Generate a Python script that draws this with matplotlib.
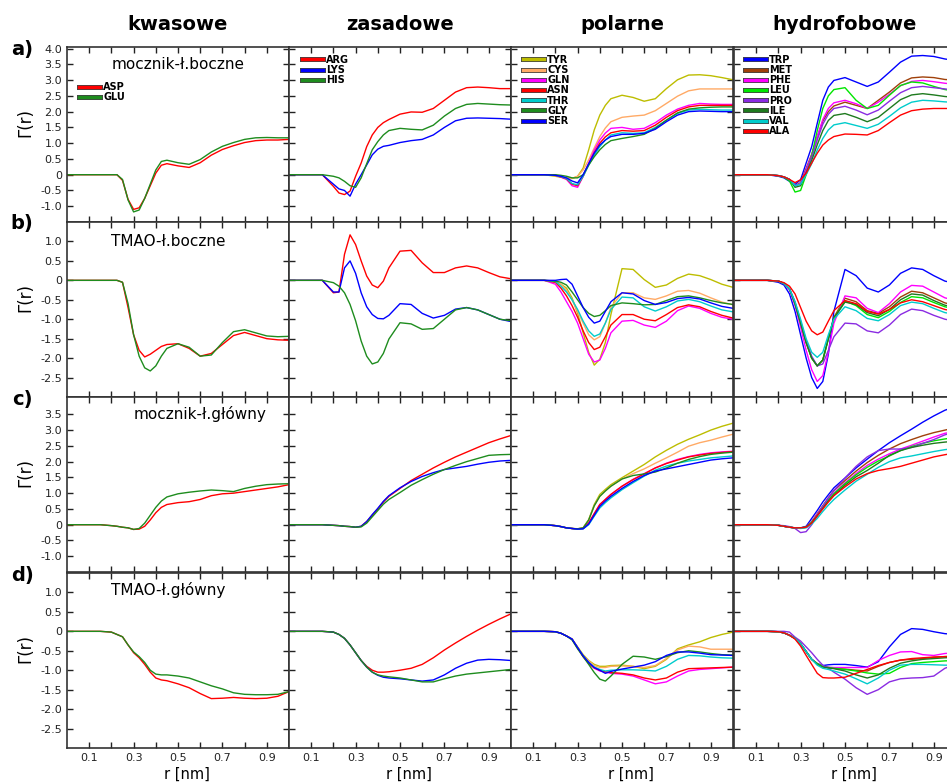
import matplotlib
matplotlib.use('Agg')
import matplotlib.pyplot as plt
from matplotlib import patheffects as pe

# shared r grid [nm]
r = [0.0, 0.15, 0.2, 0.225, 0.25, 0.275, 0.3, 0.325, 0.35, 0.375, 0.4, 0.425, 0.45,
     0.5, 0.55, 0.6, 0.65, 0.7, 0.75, 0.8, 0.85, 0.9, 0.95, 1.0]

columns = ['kwasowe', 'zasadowe', 'polarne', 'hydrofobowe']
row_labels = ['a)', 'b)', 'c)', 'd)']
row_notes = ['mocznik-ł.boczne', 'TMAO-ł.boczne', 'mocznik-ł.główny', 'TMAO-ł.główny']

# a) mocznik - side chains
kwasowe_a = {
    'ASP': [0, 0, 0, 0, -0.18, -0.78, -1.1, -1.05, -0.75, -0.35, 0.05, 0.3, 0.35, 0.28, 0.23, 0.38, 0.62, 0.8, 0.92, 1.02, 1.08, 1.1, 1.1, 1.12],
    'GLU': [0, 0, 0, 0, -0.15, -0.8, -1.18, -1.12, -0.75, -0.3, 0.15, 0.42, 0.46, 0.38, 0.33, 0.48, 0.72, 0.9, 1.02, 1.12, 1.17, 1.18, 1.17, 1.17],
}
zasadowe_a = {
    'ARG': [0, 0, -0.37, -0.58, -0.63, -0.52, -0.05, 0.37, 0.89, 1.26, 1.5, 1.65, 1.75, 1.92, 1.99, 1.98, 2.1, 2.36, 2.62, 2.76, 2.78, 2.76, 2.73, 2.73],
    'LYS': [0, 0, -0.3, -0.45, -0.5, -0.68, -0.3, 0.0, 0.31, 0.63, 0.81, 0.9, 0.93, 1.02, 1.08, 1.12, 1.26, 1.5, 1.71, 1.79, 1.8, 1.79, 1.78, 1.76],
    'HIS': [0, 0, -0.05, -0.1, -0.21, -0.35, -0.4, -0.1, 0.35, 0.79, 1.05, 1.26, 1.4, 1.47, 1.44, 1.42, 1.57, 1.86, 2.1, 2.23, 2.26, 2.24, 2.22, 2.21],
}
polarne_a = {
    'TYR': [0, 0, -0.05, -0.08, -0.1, -0.12, -0.05, 0.21, 0.79, 1.42, 1.89, 2.2, 2.41, 2.52, 2.45, 2.33, 2.41, 2.73, 3.01, 3.16, 3.17, 3.14, 3.08, 3.01],
    'CYS': [0, 0, -0.03, -0.06, -0.1, -0.12, -0.05, 0.15, 0.47, 0.85, 1.21, 1.48, 1.68, 1.82, 1.86, 1.89, 2.03, 2.26, 2.49, 2.66, 2.72, 2.72, 2.72, 2.72],
    'GLN': [0, 0, -0.02, -0.08, -0.15, -0.35, -0.4, -0.05, 0.37, 0.78, 1.1, 1.32, 1.47, 1.5, 1.44, 1.47, 1.65, 1.89, 2.08, 2.2, 2.26, 2.24, 2.23, 2.23],
    'ASN': [0, 0, -0.02, -0.07, -0.13, -0.3, -0.35, -0.05, 0.33, 0.7, 1.0, 1.2, 1.33, 1.4, 1.38, 1.4, 1.57, 1.82, 2.03, 2.15, 2.2, 2.2, 2.2, 2.2],
    'THR': [0, 0, -0.02, -0.06, -0.12, -0.28, -0.32, -0.05, 0.3, 0.62, 0.89, 1.1, 1.26, 1.33, 1.31, 1.33, 1.5, 1.73, 1.94, 2.05, 2.07, 2.06, 2.05, 2.05],
    'GLY': [0, 0, 0, -0.02, -0.05, -0.1, -0.1, 0.0, 0.31, 0.57, 0.79, 0.96, 1.08, 1.15, 1.21, 1.28, 1.47, 1.73, 1.96, 2.08, 2.12, 2.14, 2.15, 2.15],
    'SER': [0, 0, -0.02, -0.05, -0.1, -0.2, -0.26, 0.0, 0.35, 0.68, 0.94, 1.1, 1.21, 1.28, 1.28, 1.31, 1.44, 1.68, 1.89, 2.0, 2.02, 2.01, 2.0, 2.0],
}
hydrofobowe_a = {
    'TRP': [0, 0, -0.05, -0.1, -0.21, -0.31, -0.16, 0.37, 0.89, 1.63, 2.36, 2.78, 2.99, 3.08, 2.94, 2.8, 2.94, 3.25, 3.57, 3.76, 3.78, 3.75, 3.67, 3.62],
    'MET': [0, 0, -0.03, -0.07, -0.15, -0.35, -0.25, 0.2, 0.65, 1.2, 1.7, 2.0, 2.18, 2.3, 2.2, 2.1, 2.36, 2.62, 2.91, 3.07, 3.1, 3.08, 3.02, 3.0],
    'PHE': [0, 0, -0.03, -0.07, -0.15, -0.35, -0.28, 0.15, 0.62, 1.2, 1.75, 2.1, 2.28, 2.36, 2.25, 2.1, 2.3, 2.55, 2.82, 2.96, 2.99, 2.95, 2.9, 2.87],
    'LEU': [0, 0, -0.03, -0.08, -0.2, -0.55, -0.5, 0.0, 0.6, 1.4, 2.1, 2.5, 2.7, 2.76, 2.36, 2.1, 2.2, 2.52, 2.83, 2.94, 2.91, 2.8, 2.7, 2.65],
    'PRO': [0, 0, -0.03, -0.07, -0.15, -0.35, -0.3, 0.1, 0.55, 1.1, 1.6, 1.92, 2.1, 2.17, 2.05, 1.9, 2.05, 2.33, 2.6, 2.76, 2.8, 2.76, 2.72, 2.68],
    'ILE': [0, 0, -0.03, -0.07, -0.15, -0.4, -0.35, 0.05, 0.45, 0.95, 1.4, 1.72, 1.88, 1.94, 1.82, 1.68, 1.82, 2.1, 2.38, 2.53, 2.57, 2.53, 2.48, 2.45],
    'VAL': [0, 0, -0.03, -0.07, -0.15, -0.35, -0.3, 0.0, 0.35, 0.78, 1.15, 1.42, 1.58, 1.65, 1.56, 1.47, 1.6, 1.85, 2.12, 2.3, 2.36, 2.34, 2.31, 2.29],
    'ALA': [0, 0, -0.03, -0.07, -0.15, -0.25, -0.16, 0.05, 0.37, 0.68, 0.94, 1.1, 1.21, 1.29, 1.28, 1.26, 1.4, 1.65, 1.89, 2.03, 2.08, 2.1, 2.1, 2.1],
}

# b) TMAO - side chains
kwasowe_b = {
    'ASP': [0, 0, 0, 0, -0.05, -0.7, -1.4, -1.8, -1.97, -1.9, -1.8, -1.7, -1.65, -1.63, -1.75, -1.95, -1.88, -1.65, -1.42, -1.34, -1.42, -1.5, -1.53, -1.54],
    'GLU': [0, 0, 0, 0, -0.05, -0.6, -1.4, -1.95, -2.25, -2.33, -2.2, -1.95, -1.75, -1.63, -1.72, -1.95, -1.92, -1.6, -1.32, -1.27, -1.35, -1.43, -1.45, -1.44],
}
zasadowe_b = {
    'ARG': [0, 0, -0.32, -0.3, 0.67, 1.17, 0.92, 0.5, 0.11, -0.12, -0.19, -0.02, 0.32, 0.75, 0.77, 0.45, 0.2, 0.2, 0.32, 0.37, 0.32, 0.2, 0.09, 0.04],
    'LYS': [0, 0, -0.3, -0.3, 0.32, 0.5, 0.18, -0.32, -0.68, -0.88, -0.98, -0.99, -0.9, -0.6, -0.62, -0.85, -0.97, -0.9, -0.74, -0.7, -0.76, -0.88, -1.0, -1.06],
    'HIS': [0, 0, -0.06, -0.15, -0.32, -0.62, -1.04, -1.56, -1.95, -2.15, -2.1, -1.88, -1.51, -1.09, -1.12, -1.26, -1.24, -1.0, -0.76, -0.7, -0.76, -0.88, -1.0, -1.04],
}
polarne_b = {
    'TYR': [0, 0, -0.05, -0.1, -0.2, -0.45, -0.85, -1.35, -1.85, -2.18, -2.03, -1.6, -0.88, 0.3, 0.28, 0.02, -0.18, -0.12, 0.05, 0.16, 0.12, 0.02, -0.1, -0.18],
    'CYS': [0, 0, -0.02, -0.1, -0.25, -0.5, -0.8, -1.1, -1.4, -1.53, -1.45, -1.1, -0.7, -0.32, -0.32, -0.45, -0.49, -0.4, -0.28, -0.26, -0.33, -0.45, -0.56, -0.63],
    'GLN': [0, 0, -0.1, -0.3, -0.55, -0.8, -1.1, -1.5, -1.9, -2.1, -2.05, -1.75, -1.35, -1.05, -1.03, -1.15, -1.21, -1.05, -0.78, -0.66, -0.72, -0.85, -0.95, -1.0],
    'ASN': [0, 0, -0.05, -0.2, -0.4, -0.65, -0.95, -1.3, -1.6, -1.78, -1.72, -1.45, -1.15, -0.88, -0.88, -1.0, -1.04, -0.88, -0.7, -0.63, -0.68, -0.8, -0.9, -0.97],
    'THR': [0, 0, -0.03, -0.15, -0.3, -0.5, -0.75, -1.05, -1.3, -1.44, -1.38, -1.1, -0.75, -0.43, -0.45, -0.68, -0.79, -0.68, -0.53, -0.49, -0.55, -0.66, -0.76, -0.81],
    'GLY': [0, 0, -0.02, -0.05, -0.12, -0.3, -0.5, -0.7, -0.85, -0.93, -0.9, -0.78, -0.65, -0.58, -0.6, -0.63, -0.62, -0.52, -0.42, -0.4, -0.45, -0.52, -0.58, -0.62],
    'SER': [0, 0, 0.0, 0.02, 0.03, -0.1, -0.4, -0.7, -0.95, -1.1, -1.05, -0.8, -0.55, -0.32, -0.35, -0.52, -0.62, -0.57, -0.47, -0.44, -0.48, -0.58, -0.67, -0.72],
}
hydrofobowe_b = {
    'TRP': [0, 0, -0.05, -0.12, -0.35, -0.8, -1.4, -2.0, -2.5, -2.78, -2.6, -1.9, -0.8, 0.28, 0.12, -0.2, -0.3, -0.12, 0.18, 0.32, 0.28, 0.12, -0.02, -0.08],
    'MET': [0, 0, -0.02, -0.08, -0.22, -0.6, -1.1, -1.6, -2.0, -2.2, -2.05, -1.5, -0.95, -0.46, -0.55, -0.78, -0.85, -0.68, -0.43, -0.28, -0.32, -0.45, -0.58, -0.65],
    'PHE': [0, 0, -0.02, -0.08, -0.25, -0.65, -1.2, -1.8, -2.3, -2.6, -2.45, -1.85, -1.1, -0.4, -0.45, -0.72, -0.83, -0.6, -0.3, -0.13, -0.15, -0.3, -0.45, -0.52],
    'LEU': [0, 0, -0.02, -0.08, -0.22, -0.6, -1.1, -1.6, -2.0, -2.2, -2.05, -1.5, -0.98, -0.53, -0.65, -0.88, -0.96, -0.8, -0.57, -0.42, -0.45, -0.57, -0.68, -0.74],
    'PRO': [0, 0, -0.02, -0.08, -0.22, -0.55, -1.05, -1.55, -1.95, -2.2, -2.15, -1.8, -1.45, -1.1, -1.12, -1.3, -1.35, -1.15, -0.88, -0.74, -0.78, -0.9, -1.0, -1.05],
    'ILE': [0, 0, -0.02, -0.08, -0.22, -0.6, -1.1, -1.6, -2.0, -2.2, -2.05, -1.5, -0.97, -0.56, -0.62, -0.83, -0.91, -0.75, -0.5, -0.35, -0.38, -0.52, -0.64, -0.7],
    'VAL': [0, 0, -0.02, -0.08, -0.22, -0.55, -1.0, -1.5, -1.85, -1.98, -1.85, -1.4, -1.0, -0.68, -0.78, -0.98, -1.04, -0.88, -0.65, -0.56, -0.6, -0.72, -0.83, -0.88],
    'ALA': [0, 0, -0.02, -0.06, -0.15, -0.35, -0.7, -1.05, -1.3, -1.4, -1.33, -1.05, -0.78, -0.52, -0.6, -0.8, -0.87, -0.75, -0.58, -0.5, -0.55, -0.65, -0.75, -0.8],
}

# c) mocznik - backbone
kwasowe_c = {
    'ASP': [0, 0, -0.03, -0.05, -0.08, -0.1, -0.15, -0.14, -0.05, 0.15, 0.38, 0.55, 0.64, 0.7, 0.73, 0.8, 0.92, 0.98, 1.0, 1.05, 1.1, 1.15, 1.2, 1.27],
    'GLU': [0, 0, -0.03, -0.05, -0.08, -0.1, -0.15, -0.12, 0.05, 0.3, 0.55, 0.75, 0.88, 0.98, 1.03, 1.07, 1.1, 1.08, 1.05, 1.15, 1.22, 1.27, 1.29, 1.3],
}
zasadowe_c = {
    'ARG': [0, 0, -0.02, -0.03, -0.05, -0.06, -0.08, -0.05, 0.1, 0.3, 0.5, 0.72, 0.9, 1.15, 1.4, 1.6, 1.8, 1.98, 2.15, 2.3, 2.45, 2.6, 2.72, 2.83],
    'LYS': [0, 0, -0.02, -0.03, -0.05, -0.06, -0.08, -0.05, 0.1, 0.32, 0.52, 0.74, 0.92, 1.17, 1.37, 1.53, 1.65, 1.75, 1.8, 1.85, 1.92, 1.98, 2.02, 2.04],
    'HIS': [0, 0, -0.02, -0.03, -0.05, -0.06, -0.08, -0.07, 0.05, 0.25, 0.45, 0.65, 0.8, 1.02, 1.25, 1.43, 1.6, 1.75, 1.88, 2.0, 2.1, 2.2, 2.22, 2.23],
}
polarne_c = {
    'TYR': [0, 0, -0.03, -0.06, -0.1, -0.12, -0.13, -0.1, 0.16, 0.64, 0.96, 1.12, 1.27, 1.49, 1.7, 1.91, 2.15, 2.36, 2.55, 2.71, 2.85, 3.0, 3.12, 3.22],
    'CYS': [0, 0, -0.03, -0.06, -0.1, -0.12, -0.13, -0.1, 0.15, 0.6, 0.9, 1.07, 1.22, 1.45, 1.62, 1.77, 1.95, 2.12, 2.3, 2.49, 2.6, 2.68, 2.78, 2.87],
    'GLN': [0, 0, -0.03, -0.06, -0.1, -0.12, -0.14, -0.12, 0.05, 0.35, 0.64, 0.8, 0.96, 1.22, 1.44, 1.62, 1.8, 1.95, 2.07, 2.16, 2.23, 2.28, 2.31, 2.33],
    'ASN': [0, 0, -0.03, -0.06, -0.1, -0.12, -0.14, -0.12, 0.05, 0.35, 0.64, 0.8, 0.96, 1.22, 1.43, 1.61, 1.8, 1.94, 2.05, 2.15, 2.21, 2.26, 2.29, 2.32],
    'THR': [0, 0, -0.03, -0.06, -0.1, -0.12, -0.14, -0.13, 0.0, 0.27, 0.53, 0.7, 0.85, 1.11, 1.33, 1.54, 1.73, 1.86, 1.95, 2.02, 2.07, 2.12, 2.15, 2.18],
    'GLY': [0, 0, -0.03, -0.06, -0.1, -0.12, -0.13, -0.1, 0.15, 0.6, 0.9, 1.07, 1.22, 1.45, 1.56, 1.61, 1.67, 1.8, 1.95, 2.07, 2.16, 2.23, 2.27, 2.3],
    'SER': [0, 0, -0.03, -0.06, -0.1, -0.12, -0.14, -0.13, 0.02, 0.3, 0.58, 0.75, 0.9, 1.15, 1.37, 1.56, 1.7, 1.77, 1.84, 1.91, 1.98, 2.05, 2.09, 2.12],
}
hydrofobowe_c = {
    'TRP': [0, 0, -0.02, -0.05, -0.08, -0.1, -0.1, -0.05, 0.2, 0.45, 0.72, 0.95, 1.17, 1.48, 1.8, 2.08, 2.35, 2.6, 2.82, 3.03, 3.25, 3.45, 3.63, 3.75],
    'MET': [0, 0, -0.02, -0.05, -0.08, -0.1, -0.1, -0.08, 0.1, 0.35, 0.6, 0.85, 1.08, 1.4, 1.7, 1.97, 2.2, 2.4, 2.57, 2.7, 2.82, 2.92, 3.0, 3.08],
    'PHE': [0, 0, -0.02, -0.05, -0.08, -0.1, -0.1, -0.08, 0.1, 0.33, 0.57, 0.8, 1.0, 1.33, 1.62, 1.88, 2.08, 2.25, 2.4, 2.52, 2.65, 2.78, 2.9, 2.95],
    'LEU': [0, 0, -0.02, -0.05, -0.08, -0.1, -0.1, -0.08, 0.08, 0.3, 0.55, 0.78, 0.98, 1.3, 1.58, 1.82, 2.02, 2.18, 2.35, 2.48, 2.58, 2.66, 2.72, 2.77],
    'PRO': [0, 0, -0.02, -0.03, -0.06, -0.12, -0.25, -0.22, 0.0, 0.3, 0.58, 0.85, 1.08, 1.48, 1.85, 2.15, 2.35, 2.4, 2.4, 2.45, 2.58, 2.7, 2.85, 2.95],
    'ILE': [0, 0, -0.02, -0.05, -0.08, -0.1, -0.1, -0.08, 0.05, 0.28, 0.52, 0.74, 0.93, 1.25, 1.52, 1.72, 1.95, 2.2, 2.35, 2.45, 2.52, 2.58, 2.62, 2.65],
    'VAL': [0, 0, -0.02, -0.05, -0.08, -0.1, -0.12, -0.1, 0.02, 0.2, 0.42, 0.62, 0.8, 1.1, 1.38, 1.6, 1.82, 2.0, 2.12, 2.18, 2.25, 2.32, 2.38, 2.42],
    'ALA': [0, 0, -0.02, -0.05, -0.08, -0.1, -0.1, -0.08, 0.05, 0.28, 0.5, 0.72, 0.92, 1.2, 1.45, 1.62, 1.72, 1.78, 1.85, 1.95, 2.05, 2.15, 2.22, 2.28],
}

# d) TMAO - backbone
kwasowe_d = {
    'ASP': [0, 0, -0.02, -0.08, -0.14, -0.35, -0.55, -0.68, -0.85, -1.05, -1.2, -1.25, -1.27, -1.35, -1.45, -1.6, -1.73, -1.72, -1.7, -1.72, -1.73, -1.72, -1.67, -1.55],
    'GLU': [0, 0, -0.02, -0.08, -0.14, -0.35, -0.53, -0.65, -0.8, -1.0, -1.1, -1.12, -1.12, -1.15, -1.2, -1.3, -1.4, -1.48, -1.58, -1.62, -1.63, -1.63, -1.62, -1.55],
}
zasadowe_d = {
    'ARG': [0, 0, -0.02, -0.08, -0.18, -0.35, -0.55, -0.75, -0.9, -1.0, -1.05, -1.05, -1.04, -1.0, -0.95, -0.85, -0.68, -0.48, -0.3, -0.13, 0.03, 0.18, 0.32, 0.45],
    'LYS': [0, 0, -0.02, -0.08, -0.18, -0.35, -0.55, -0.75, -0.92, -1.05, -1.13, -1.18, -1.2, -1.22, -1.25, -1.28, -1.25, -1.12, -0.95, -0.82, -0.74, -0.72, -0.73, -0.75],
    'HIS': [0, 0, -0.02, -0.08, -0.18, -0.35, -0.55, -0.75, -0.92, -1.05, -1.12, -1.15, -1.17, -1.2, -1.25, -1.3, -1.3, -1.22, -1.15, -1.1, -1.07, -1.04, -1.01, -0.98],
}
polarne_d = {
    'TYR': [0, 0, -0.01, -0.05, -0.12, -0.2, -0.4, -0.6, -0.75, -0.85, -0.9, -0.9, -0.88, -0.87, -0.9, -0.96, -0.9, -0.72, -0.45, -0.35, -0.27, -0.16, -0.08, -0.02],
    'CYS': [0, 0, -0.01, -0.05, -0.12, -0.2, -0.42, -0.62, -0.76, -0.88, -0.93, -0.93, -0.9, -0.89, -0.9, -0.93, -0.88, -0.7, -0.48, -0.38, -0.4, -0.46, -0.46, -0.46],
    'GLN': [0, 0, -0.01, -0.05, -0.12, -0.2, -0.42, -0.65, -0.82, -0.95, -1.02, -1.05, -1.08, -1.1, -1.15, -1.25, -1.35, -1.3, -1.15, -1.02, -0.98, -0.96, -0.94, -0.92],
    'ASN': [0, 0, -0.01, -0.05, -0.12, -0.2, -0.42, -0.65, -0.82, -0.94, -1.0, -1.04, -1.06, -1.08, -1.12, -1.2, -1.25, -1.2, -1.05, -0.96, -0.95, -0.94, -0.93, -0.92],
    'THR': [0, 0, -0.01, -0.05, -0.12, -0.2, -0.42, -0.63, -0.8, -0.92, -0.98, -1.02, -1.0, -0.99, -0.99, -1.0, -1.02, -0.9, -0.72, -0.62, -0.63, -0.66, -0.68, -0.69],
    'GLY': [0, 0, -0.01, -0.05, -0.12, -0.22, -0.45, -0.65, -0.85, -1.06, -1.23, -1.28, -1.15, -0.85, -0.64, -0.66, -0.72, -0.65, -0.55, -0.5, -0.53, -0.57, -0.6, -0.61],
    'SER': [0, 0, -0.01, -0.05, -0.12, -0.2, -0.42, -0.63, -0.8, -0.93, -1.0, -1.08, -1.03, -0.97, -0.92, -0.87, -0.78, -0.62, -0.53, -0.53, -0.56, -0.6, -0.61, -0.62],
}
hydrofobowe_d = {
    'TRP': [0, 0, -0.01, -0.04, -0.1, -0.18, -0.32, -0.52, -0.72, -0.83, -0.88, -0.86, -0.85, -0.85, -0.88, -0.92, -0.78, -0.4, -0.08, 0.07, 0.05, -0.01, -0.06, -0.08],
    'MET': [0, 0, -0.01, -0.04, -0.1, -0.18, -0.32, -0.52, -0.72, -0.83, -0.9, -0.93, -0.95, -0.97, -1.0, -1.02, -0.9, -0.8, -0.74, -0.72, -0.7, -0.67, -0.65, -0.64],
    'PHE': [0, 0, -0.01, -0.04, -0.1, -0.18, -0.32, -0.52, -0.72, -0.83, -0.9, -0.92, -0.93, -0.93, -0.93, -0.93, -0.75, -0.62, -0.53, -0.52, -0.6, -0.62, -0.57, -0.55],
    'LEU': [0, 0, -0.01, -0.04, -0.1, -0.18, -0.32, -0.52, -0.72, -0.83, -0.9, -0.93, -0.95, -0.98, -1.02, -1.07, -1.1, -1.08, -0.93, -0.83, -0.8, -0.78, -0.76, -0.75],
    'PRO': [0, 0, 0, 0, -0.02, -0.15, -0.25, -0.4, -0.55, -0.72, -0.87, -0.95, -1.05, -1.23, -1.45, -1.62, -1.5, -1.3, -1.22, -1.2, -1.19, -1.15, -0.95, -0.85],
    'ILE': [0, 0, -0.01, -0.04, -0.1, -0.18, -0.32, -0.52, -0.72, -0.85, -0.92, -0.94, -0.96, -1.02, -1.12, -1.2, -1.12, -0.95, -0.82, -0.76, -0.72, -0.7, -0.68, -0.67],
    'VAL': [0, 0, -0.01, -0.04, -0.1, -0.18, -0.32, -0.52, -0.72, -0.87, -0.95, -0.98, -1.02, -1.1, -1.22, -1.35, -1.2, -1.0, -0.87, -0.85, -0.85, -0.86, -0.87, -0.87],
    'ALA': [0, 0, -0.01, -0.04, -0.1, -0.2, -0.38, -0.62, -0.85, -1.08, -1.19, -1.2, -1.2, -1.18, -1.08, -0.98, -0.88, -0.8, -0.74, -0.7, -0.68, -0.66, -0.65, -0.64],
}

panels = [
    [kwasowe_a, zasadowe_a, polarne_a, hydrofobowe_a],
    [kwasowe_b, zasadowe_b, polarne_b, hydrofobowe_b],
    [kwasowe_c, zasadowe_c, polarne_c, hydrofobowe_c],
    [kwasowe_d, zasadowe_d, polarne_d, hydrofobowe_d],
]

colors = {
    'ASP': '#ff0000', 'GLU': '#1e8c1e',
    'ARG': '#ff0000', 'LYS': '#0000ff', 'HIS': '#1e8c1e',
    'TYR': '#bdbd00', 'CYS': '#ffaa66', 'GLN': '#ff00ff', 'ASN': '#ff0000',
    'THR': '#00cccc', 'GLY': '#1e8c1e', 'SER': '#0000ff',
    'TRP': '#0000ff', 'MET': '#a0400a', 'PHE': '#ff00ff', 'LEU': '#00e600',
    'PRO': '#8a2be2', 'ILE': '#1e7a1e', 'VAL': '#00cccc', 'ALA': '#ff0000',
}

W, H = 947, 784
fig = plt.figure(figsize=(W / 100, H / 100), dpi=100)

col_left = [67, 289, 511, 734]
row_top = [47, 222, 397, 573]
aw, ah = 222, 175

ylims = [(-1.5, 4.05), (-3.0, 1.5), (-1.5, 4.05), (-3.0, 1.5)]
yticks = [
    [-1.0, -0.5, 0, 0.5, 1.0, 1.5, 2.0, 2.5, 3.0, 3.5, 4.0],
    [-2.5, -2.0, -1.5, -1.0, -0.5, 0, 0.5, 1.0],
    [-1.0, -0.5, 0, 0.5, 1.0, 1.5, 2.0, 2.5, 3.0, 3.5],
    [-2.5, -2.0, -1.5, -1.0, -0.5, 0, 0.5, 1.0],
]
legend_anchor = [(0.055, 0.80), (0.06, 0.955), (0.055, 0.955), (0.05, 0.955)]


def fmt(v):
    return '0' if v == 0 else '%.1f' % v


for i in range(4):
    for j in range(4):
        ax = fig.add_axes([col_left[j] / W, 1 - (row_top[i] + ah) / H, aw / W, ah / H])
        for name, vals in panels[i][j].items():
            ax.plot(r, vals, color=colors[name], lw=1.0, label=name)
        ax.set_xlim(0, 1.0)
        ax.set_ylim(*ylims[i])
        ax.set_xticks([0.1, 0.2, 0.3, 0.4, 0.5, 0.6, 0.7, 0.8, 0.9])
        ax.set_yticks(yticks[i])
        if i == 3:
            ax.set_xticklabels(['0.1', '', '0.3', '', '0.5', '', '0.7', '', '0.9'])
        else:
            ax.set_xticklabels([])
        if j == 0:
            ax.set_yticklabels([fmt(v) for v in yticks[i]])
        else:
            ax.set_yticklabels([])
        ax.tick_params(direction='in', top=True, right=True, length=4, width=1,
                       labelsize=8, colors='#222222', labelcolor='#222222')
        for s in ax.spines.values():
            s.set_linewidth(1.2)
            s.set_color('#333333')

        if i == 0:
            leg = ax.legend(loc='upper left', bbox_to_anchor=legend_anchor[j],
                            frameon=False, borderpad=0, borderaxespad=0,
                            handlelength=2.1, handletextpad=0.35, labelspacing=0.02,
                            prop={'weight': 'bold', 'size': 7})
            for h in leg.get_lines():
                h.set_linewidth(2.4)
                h.set_path_effects([pe.Stroke(linewidth=3.6, foreground='#444444'), pe.Normal()])

        if j == 0:
            ax.text(0.2 if i != 2 else 0.3, 0.9 if i != 1 else 0.89, row_notes[i],
                    transform=ax.transAxes, fontsize=11, ha='left', va='center')

# column titles
for j, name in enumerate(columns):
    fig.text((col_left[j] + aw / 2) / W, 1 - 25 / H, name, ha='center', va='center',
             fontsize=14, fontweight='bold')
    fig.text((col_left[j] + aw / 2 + 9) / W, 1 - 774 / H, 'r [nm]', ha='center',
             va='center', fontsize=10.5)

# row labels and y labels
for i in range(4):
    fig.text(22 / W, 1 - (row_top[i] + 2) / H, row_labels[i], ha='center', va='center',
             fontsize=14, fontweight='bold')
    fig.text(25 / W, 1 - (row_top[i] + ah / 2 - 12) / H, 'Γ(r)', ha='center', va='center',
             fontsize=12, rotation=90)

fig.savefig('out.png', dpi=100)
